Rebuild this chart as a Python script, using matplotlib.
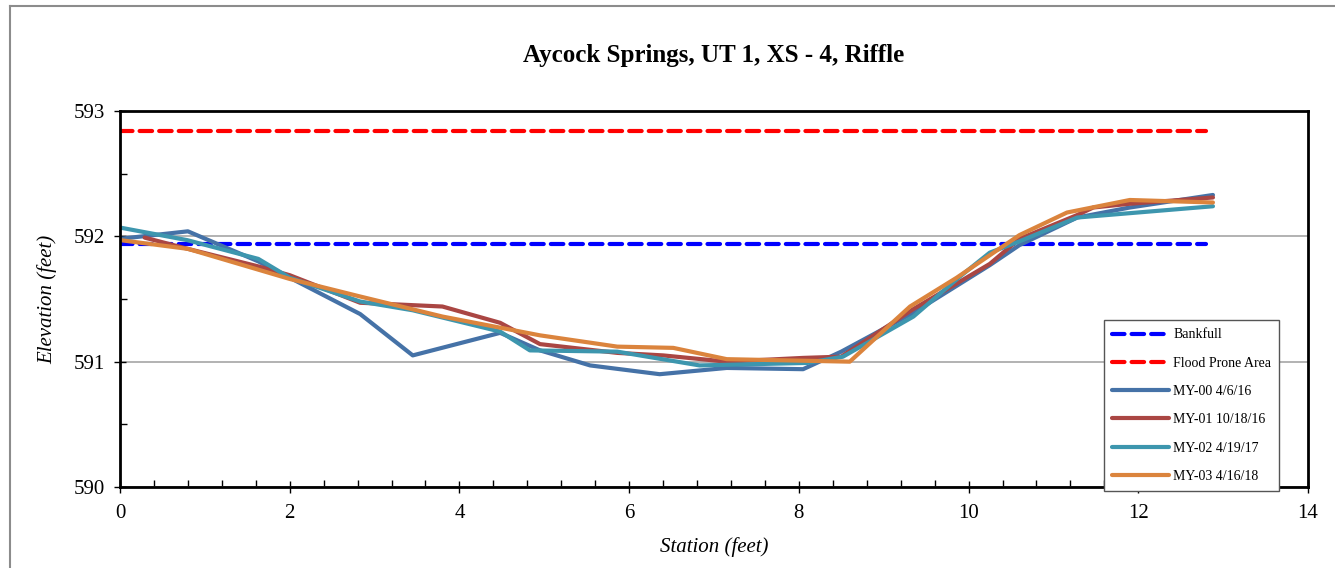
import matplotlib
matplotlib.use("Agg")
import matplotlib.pyplot as plt
from matplotlib.lines import Line2D
from matplotlib.ticker import MultipleLocator

plt.rcParams['font.family'] = ['Liberation Serif', 'DejaVu Serif']

# reference lines
bankfull_x = [0, 12.8]
bankfull_y = [591.94, 591.94]
flood_x = [0, 12.8]
flood_y = [592.84, 592.84]

# surveys
my00_x = [0, 0.8, 1.63, 2.0, 2.83, 3.45, 4.48, 4.95, 5.54, 6.36, 7.15, 8.05, 8.5, 9.35, 10.25, 10.6, 11.28, 11.9, 12.88]
my00_y = [591.98, 592.04, 591.80, 591.67, 591.38, 591.05, 591.23, 591.09, 590.97, 590.90, 590.95, 590.94, 591.08, 591.39, 591.77, 591.93, 592.15, 592.23, 592.33]

my01_x = [0.29, 0.8, 1.63, 2.0, 2.83, 3.8, 4.48, 4.95, 5.86, 6.4, 7.15, 8.05, 8.5, 9.35, 10.25, 10.6, 11.28, 11.47, 11.9, 12.88]
my01_y = [591.99, 591.90, 591.76, 591.69, 591.47, 591.44, 591.31, 591.14, 591.07, 591.05, 591.00, 591.03, 591.04, 591.42, 591.78, 591.98, 592.17, 592.23, 592.26, 592.31]

my02_x = [0, 0.79, 1.63, 2.0, 2.83, 3.45, 4.48, 4.83, 5.86, 6.83, 8.1, 8.52, 9.35, 9.9, 10.25, 10.6, 11.28, 12.88]
my02_y = [592.07, 591.97, 591.82, 591.67, 591.48, 591.41, 591.24, 591.09, 591.08, 590.97, 590.99, 591.04, 591.36, 591.68, 591.87, 591.96, 592.15, 592.24]

my03_x = [0, 0.8, 2.0, 2.83, 3.8, 4.95, 5.86, 6.52, 7.15, 8.6, 9.31, 9.86, 10.6, 11.16, 11.9, 12.88]
my03_y = [591.97, 591.90, 591.66, 591.52, 591.36, 591.21, 591.12, 591.11, 591.02, 591.00, 591.44, 591.67, 592.01, 592.19, 592.29, 592.27]

fig = plt.figure(figsize=(13.35, 5.68), dpi=100)
ax = fig.add_axes([120/1335, 1-487/568, 1188/1335, 376/568])

# outer chart border (cropped on right/bottom)
fig.add_artist(Line2D([10/1335, 1], [1-6/568, 1-6/568], color='#8c8c8c', lw=1.5))
fig.add_artist(Line2D([10/1335, 10/1335], [0, 1-6/568], color='#8c8c8c', lw=1.5))

dash = (3, 1.7)
ax.plot(bankfull_x, bankfull_y, color='#0000FF', lw=3, linestyle=(0, dash),
        dash_capstyle='round', label='Bankfull')
ax.plot(flood_x, flood_y, color='#FF0000', lw=3, linestyle=(0, dash),
        dash_capstyle='round', label='Flood Prone Area')
ax.plot(my00_x, my00_y, color='#4572A7', lw=3, solid_capstyle='round', label='MY-00 4/6/16')
ax.plot(my01_x, my01_y, color='#AA4643', lw=3, solid_capstyle='round', label='MY-01 10/18/16')
ax.plot(my02_x, my02_y, color='#3D96AE', lw=3, solid_capstyle='round', label='MY-02 4/19/17')
ax.plot(my03_x, my03_y, color='#DB843D', lw=3, solid_capstyle='round', label='MY-03 4/16/18')

ax.set_xlim(0, 14)
ax.set_ylim(590, 593)
ax.xaxis.set_major_locator(MultipleLocator(2))
ax.xaxis.set_minor_locator(MultipleLocator(0.4))
ax.yaxis.set_major_locator(MultipleLocator(1))
ax.yaxis.set_minor_locator(MultipleLocator(0.5))
ax.tick_params(which='major', direction='inout', length=9, width=1, labelsize=15, colors='black')
ax.tick_params(axis='x', which='major', pad=8)
ax.tick_params(axis='y', which='major', pad=6)
ax.tick_params(which='minor', direction='in', length=5, width=1)
ax.grid(axis='y', which='major', color='#a6a6a6', lw=1.2)
ax.set_axisbelow(True)
for s in ax.spines.values():
    s.set_linewidth(2)
    s.set_color('black')

ax.set_title('Aycock Springs, UT 1, XS - 4, Riffle', fontsize=18, fontweight='bold', pad=35)
ax.set_xlabel('Station (feet)', fontsize=15, style='italic', labelpad=10)
ax.set_ylabel('Elevation (feet)', fontsize=15, style='italic', labelpad=12)

leg = ax.legend(loc='upper left', bbox_to_anchor=(0.828, 0.444), borderaxespad=0,
                fontsize=10, handlelength=4.1, labelspacing=1.1, fancybox=False,
                framealpha=1, edgecolor='#555555', borderpad=0.6, handletextpad=0.3)
leg.get_frame().set_linewidth(1)
leg.set_zorder(10)

fig.savefig('out.png', dpi=100)
